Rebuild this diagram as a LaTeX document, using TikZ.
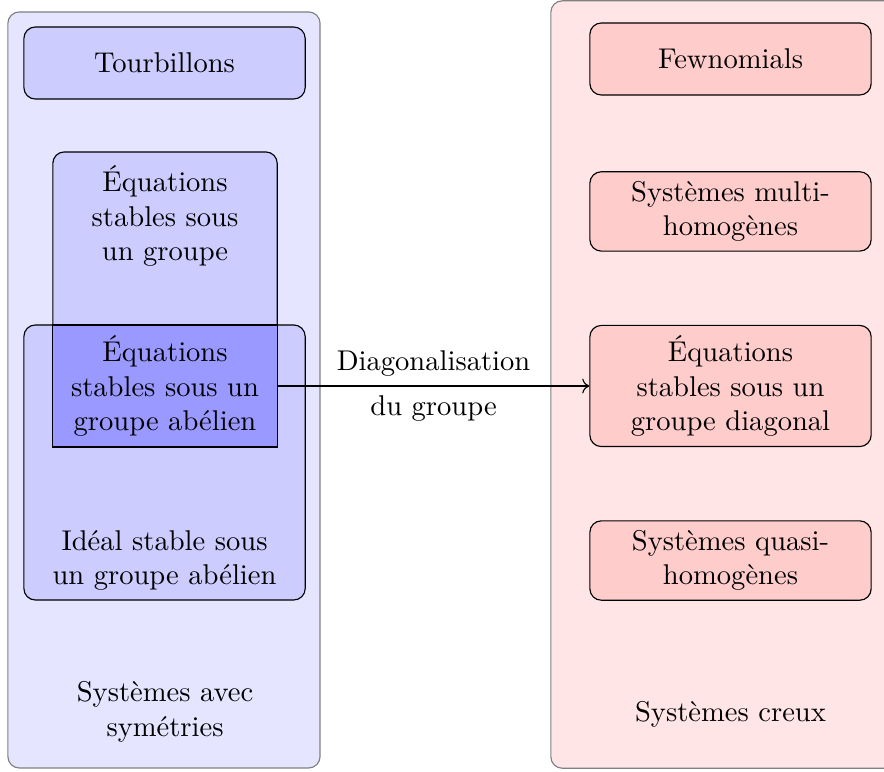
\documentclass[tikz,border=0pt]{standalone}
\usepackage{tikz}
\usetikzlibrary{positioning, arrows.meta}

\begin{document}
\begin{tikzpicture}[
		node distance=0.9cm,
		panel/.style={rectangle, draw=black!50, rounded corners},
		box/.style={rectangle, draw, rounded corners, minimum width=3.46cm, align=center},
		gbox/.style={rectangle, draw, minimum width=2.76cm, align=center},
		arrow/.style={->}
		]
		
		\useasboundingbox (0,0) rectangle (10.874,9.496);
		
		% Panels
		\node[panel, fill=blue!10, minimum width=3.84cm, minimum height=9.3cm] (S) at (2.017,4.699) {};
		\node[panel, fill=red!10, minimum width=4.48cm, minimum height=9.44cm] (C) at (9.016,4.766) {};
		\node[align=center] (SL) at (2.03,0.738) {Systèmes avec\\symétries};
		\node (CL) at (8.986,0.713) {Systèmes creux};
		
		% Left nodes
		\node[box, fill=blue!20, minimum height=0.886cm] (T) at (2.024,8.721) {Tourbillons};
		\node[gbox, rounded corners, fill=blue!20, minimum height=3.63cm,
			label={[align=center, anchor=north, yshift=-1.5pt]north:{Équations\\stables sous\\un groupe}}] (G) at (2.03,5.812) {};
		\node[box, fill=blue!20, minimum height=3.383cm,
			label={[align=center, anchor=south]south:{Idéal stable sous\\un groupe abélien}}] (I) at (2.024,3.807) {};
		\node[gbox, fill=blue!40, minimum height=1.5cm] (AB) at (2.03,4.748) {Équations\\stables sous un\\groupe abélien};
		
		% Right nodes
		\node[box, fill=red!20, minimum height=1.49cm] (D) at (8.986,4.748) {Équations\\stables sous un\\groupe diagonal};
		\node[box, fill=red!20, minimum height=0.972cm, above=of D] (M) {Systèmes multi-\\homogènes};
		\node[box, fill=red!20, minimum height=0.886cm, above=0.93cm of M] (F) {Fewnomials};
		\node[box, fill=red!20, minimum height=0.972cm, below=of D] (Q) {Systèmes quasi-\\homogènes};
		
		% Edges
		\draw[arrow] (AB) -- node[above] {Diagonalisation} node[below] {du groupe} (D);
		
	\end{tikzpicture}
\end{document}
